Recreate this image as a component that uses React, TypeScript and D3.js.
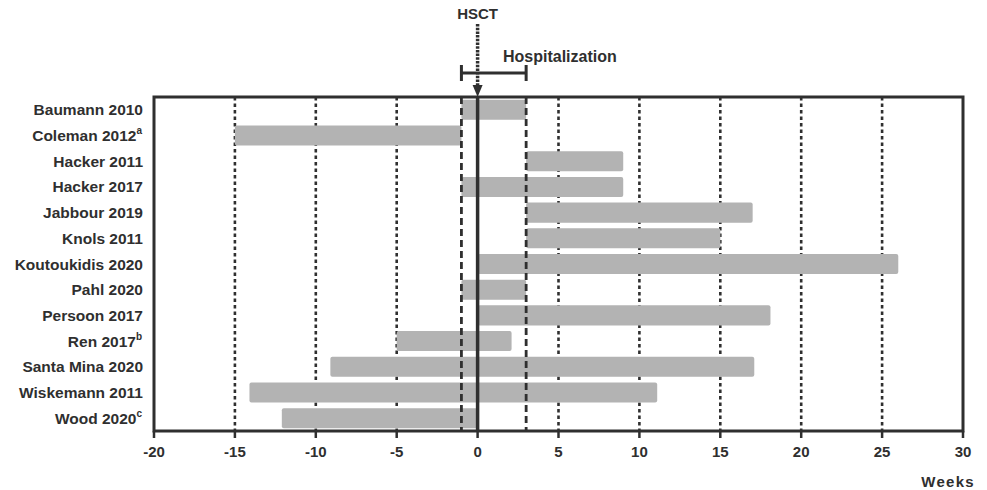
import React from 'react';
import * as d3 from 'd3';

// study names, superscripts and intervention windows (weeks relative to HSCT)
const STUDIES = [
  'Baumann 2010', 'Coleman 2012', 'Hacker 2011', 'Hacker 2017', 'Jabbour 2019',
  'Knols 2011', 'Koutoukidis 2020', 'Pahl 2020', 'Persoon 2017', 'Ren 2017',
  'Santa Mina 2020', 'Wiskemann 2011', 'Wood 2020',
];
const SUPERSCRIPTS = ['', 'a', '', '', '', '', '', '', '', 'b', '', '', 'c'];
const STARTS = [-1, -15, 3, -1, 3, 3, 0, -1, 0, -5, -9.1, -14.1, -12.1];
const ENDS = [3, -1, 9, 9, 17, 15, 26, 3, 18.1, 2.1, 17.1, 11.1, 0];
const X_TICKS = [-20, -15, -10, -5, 0, 5, 10, 15, 20, 25, 30];
const HOSPITAL = [-1, 3];

const W = 987;
const H = 490;
const left = 154, right = 963, top = 97, bottom = 431;
const ink = '#2f2f2f';
const font = '"Liberation Sans", Arial, sans-serif';

export default function App() {
  const x = d3.scaleLinear().domain([-20, 30]).range([left, right]);
  const y = d3.scaleBand<string>().domain(STUDIES).range([top, bottom]).paddingInner(0.22).paddingOuter(0.11);
  const bh = y.bandwidth();
  const gridTicks = X_TICKS.filter(t => t > -20 && t < 30 && t !== 0);

  return (
    <svg width={W} height={H} style={{ position: 'absolute', left: 0, top: 0, fontFamily: font }}>
      {/* background grid every 5 weeks */}
      {gridTicks.map(t => (
        <line key={t} x1={x(t)} x2={x(t)} y1={top} y2={bottom} stroke={ink} strokeWidth={2.6} strokeDasharray="3.5,3" />
      ))}

      {/* bars */}
      {STUDIES.map((s, i) => (
        <rect key={s} x={x(STARTS[i])} y={y(s)!} width={x(ENDS[i]) - x(STARTS[i])} height={bh}
          rx={2} fill="#b3b3b3" />
      ))}

      {/* hospitalization window lines */}
      {HOSPITAL.map(t => (
        <line key={t} x1={x(t)} x2={x(t)} y1={top} y2={bottom} stroke={ink} strokeWidth={2.8} strokeDasharray="7,4" />
      ))}

      {/* HSCT line */}
      <line x1={x(0)} x2={x(0)} y1={top} y2={bottom} stroke={ink} strokeWidth={3.5} />

      {/* frame */}
      <rect x={left} y={top} width={right - left} height={bottom - top} fill="none" stroke={ink} strokeWidth={3} />

      {/* x ticks */}
      {X_TICKS.map(t => (
        <g key={t}>
          <line x1={x(t)} x2={x(t)} y1={bottom} y2={bottom + 7} stroke={ink} strokeWidth={2.5} />
          <text x={x(t)} y={bottom + 26} textAnchor="middle" fontSize={15} fontWeight="bold" fill={ink}>{t}</text>
        </g>
      ))}
      <text x={975} y={487} textAnchor="end" fontSize={15} fontWeight="bold" fill={ink} letterSpacing={1.3}>Weeks</text>

      {/* study labels */}
      {STUDIES.map((s, i) => (
        <text key={s} x={SUPERSCRIPTS[i] ? 142 : 143} y={y(s)! + bh / 2 + 5.5} textAnchor="end" fontSize={15.5} fontWeight="bold" fill={ink}>
          {s}
          {SUPERSCRIPTS[i] && <tspan fontSize={10} dy={-7}>{SUPERSCRIPTS[i]}</tspan>}
        </text>
      ))}

      {/* HSCT arrow */}
      <text x={x(0)} y={19} textAnchor="middle" fontSize={15} fontWeight="bold" fill={ink}>HSCT</text>
      <line x1={x(0)} x2={x(0)} y1={24} y2={88} stroke={ink} strokeWidth={3.5} strokeDasharray="2.5,1.2" />
      <path d={`M${x(0) - 5},${85} L${x(0) + 5},${85} L${x(0)},${97} Z`} fill={ink} />

      {/* hospitalization bracket */}
      <line x1={x(-1)} x2={x(3)} y1={73} y2={73} stroke={ink} strokeWidth={3} />
      <line x1={x(-1)} x2={x(-1)} y1={65} y2={81} stroke={ink} strokeWidth={3} />
      <line x1={x(3)} x2={x(3)} y1={65} y2={81} stroke={ink} strokeWidth={3} />
      <text x={503} y={62} fontSize={16} fontWeight="bold" fill={ink}>Hospitalization</text>
    </svg>
  );
}
